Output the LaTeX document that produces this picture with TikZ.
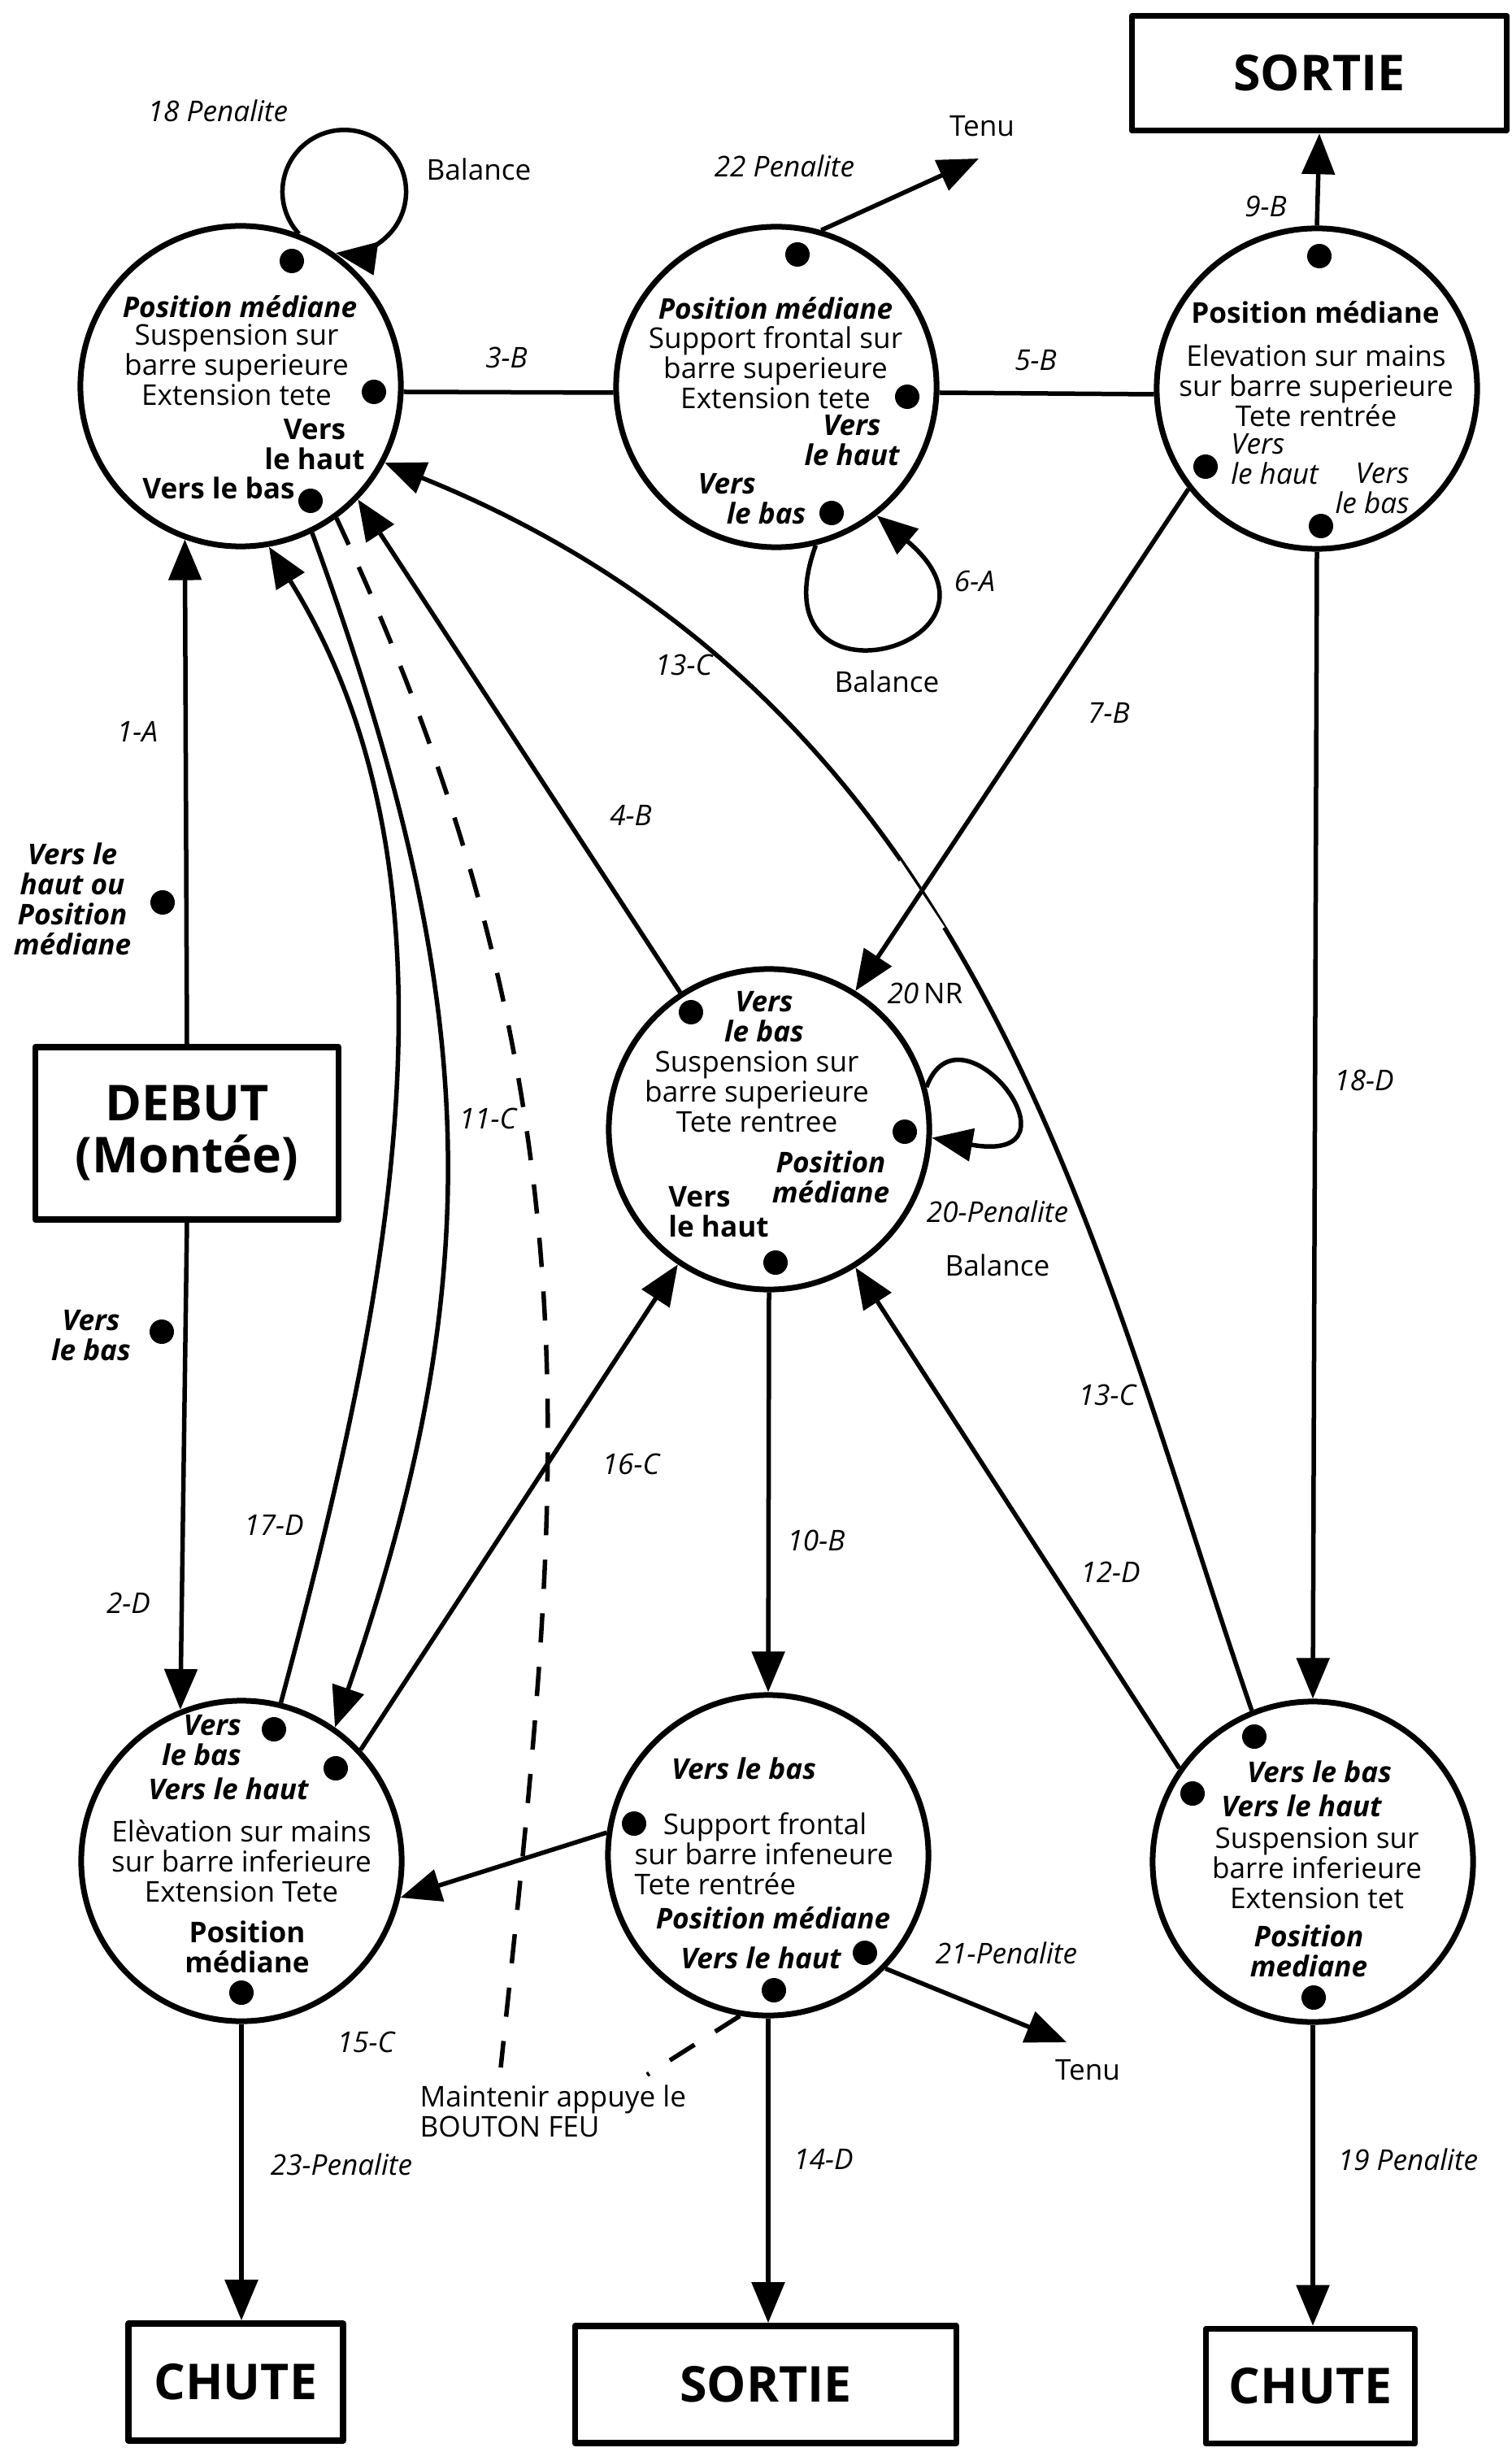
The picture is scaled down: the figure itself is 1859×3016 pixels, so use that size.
\documentclass[tikz,border=0pt]{standalone}
\usepackage{fontspec}
\setmainfont{Open Sans}
\usepackage{tikz}
\usetikzlibrary{arrows.meta,positioning}
\definecolor{gyink}{RGB}{0,0,0}
\newcommand{\ftx}{\fontsize{10}{10.5}\selectfont}
\newcommand{\fbx}{\fontsize{17.3}{18.2}\selectfont\bfseries}
\tikzset{
  etat/.style={circle, draw=gyink, line width=0.07cm, minimum size=3.94cm, inner sep=0pt},
  bout/.style={draw=gyink, line width=0.075cm, inner sep=0pt, align=center, font=\fbx},
  lig/.style={draw=gyink, line width=0.055cm},
  arr/.style={lig, -{Triangle[length=5mm,width=4mm]}},
  darr/.style={lig, dash pattern=on 3.6mm off 3mm},
  pdot/.style={circle, fill=gyink, minimum size=3mm, inner sep=0pt},
  txt/.style={align=center, inner sep=0pt, font=\ftx},
  anno/.style={inner sep=0pt, font=\ftx\itshape},
  every picture/.append style={line join=round}
}
\begin{document}
\begin{tikzpicture}[x=0.01cm, y=0.01cm]
  \useasboundingbox (0,0) rectangle (1859,-3016);
  % etats
  \node[etat] (tl) at (296,-475) {};
  \node[etat] (tm) at (955,-476) {};
  \node[etat] (tr) at (1620,-478) {};
  \node[etat] (mc) at (946,-1389) {};
  \node[etat] (bl) at (297,-2289) {};
  \node[etat] (bm) at (945,-2282) {};
  \node[etat] (br) at (1615,-2290) {};
  % boites
  \node[bout, minimum width=4.61cm, minimum height=1.41cm] (sortieH) at (1623,-90) {SORTIE};
  \node[bout, minimum width=3.73cm, minimum height=2.12cm] (debut) at (230,-1394) {DEBUT\\(Montée)};
  \node[bout, minimum width=2.64cm, minimum height=1.44cm] (chuteG) at (290,-2930) {CHUTE};
  \node[bout, minimum width=4.69cm, minimum height=1.44cm] (sortieB) at (942,-2933) {SORTIE};
  \node[bout, minimum width=2.57cm, minimum height=1.41cm] (chuteD) at (1612,-2935) {CHUTE};

  % haut gauche
  \node[pdot] (tlP1) at (359,-321) {};
  \node[pdot] (tlP2) at (460,-482) {};
  \node[pdot] (tlP3) at (382,-616) {};
  \node[txt, font=\ftx\bfseries\itshape] (tlA) at (295,-377) {Position médiane};
  \node[txt] (tlB) at (291,-449) {Suspension sur\\barre superieure\\Extension tete};
  \node[txt, font=\ftx\bfseries] (tlC) at (387,-547) {Vers\\le haut};
  \node[txt, font=\ftx\bfseries] (tlD) at (269,-600) {Vers le bas};

  % haut milieu
  \node[pdot] (tmP1) at (981,-313) {};
  \node[pdot] (tmP2) at (1116,-488) {};
  \node[pdot] (tmP3) at (1023,-631) {};
  \node[txt, font=\ftx\bfseries\itshape] (tmA) at (954,-379) {Position médiane};
  \node[txt] (tmB) at (954,-452) {Support frontal sur\\barre superieure\\Extension tete};
  \node[txt, font=\ftx\bfseries\itshape] (tmC) at (1048,-542) {Vers\\le haut};
  \node[txt, align=left, font=\ftx\bfseries\itshape] (tmD) at (925,-614) {Vers\\\hspace*{1em}le bas};

  % haut droite
  \node[pdot] (trP1) at (1623,-315) {};
  \node[pdot] (trP2) at (1483,-574) {};
  \node[pdot] (trP3) at (1625,-647) {};
  \node[txt, font=\ftx\bfseries] (trA) at (1618,-384) {Position médiane};
  \node[txt] (trB) at (1619,-474) {Elevation sur mains\\sur barre superieure\\Tete rentrée};
  \node[txt, align=left, font=\ftx\itshape] (trC) at (1568,-565) {Vers\\le haut};
  \node[txt, align=right, font=\ftx\itshape] (trD) at (1688,-601) {Vers\\le bas};

  % centre
  \node[pdot] (mcP1) at (850,-1245) {};
  \node[pdot] (mcP2) at (1113,-1392) {};
  \node[pdot] (mcP3) at (954,-1553) {};
  \node[txt, font=\ftx\bfseries\itshape] (mcA) at (940,-1251) {Vers\\le bas};
  \node[txt] (mcB) at (931,-1343) {Suspension sur\\barre superieure\\Tete rentree};
  \node[txt, font=\ftx\bfseries\itshape] (mcC) at (1022,-1448) {Position\\médiane};
  \node[txt, align=left, font=\ftx\bfseries] (mcD) at (884,-1491) {Vers\\le haut};

  % bas gauche
  \node[pdot] (blP1) at (337,-2127) {};
  \node[pdot] (blP2) at (413,-2175) {};
  \node[pdot] (blP3) at (297,-2451) {};
  \node[txt, align=right, font=\ftx\bfseries\itshape] (blA) at (248,-2141) {Vers\\le bas};
  \node[txt, font=\ftx\bfseries\itshape] (blB) at (281,-2200) {Vers le haut};
  \node[txt] (blC) at (297,-2289) {Elèvation sur mains\\sur barre inferieure\\Extension Tete};
  \node[txt, font=\ftx\bfseries] (blD) at (304,-2395) {Position\\médiane};

  % bas milieu
  \node[pdot] (bmP1) at (780,-2243) {};
  \node[pdot] (bmP2) at (1064,-2402) {};
  \node[pdot] (bmP3) at (952,-2448) {};
  \node[txt, font=\ftx\bfseries\itshape] (bmA) at (915,-2175) {Vers le bas};
  \node[txt, align=left, anchor=west] (bmB) at (780,-2280) {\hspace*{1em}Support frontal\\sur barre infeneure\\Tete rentrée};
  \node[txt, font=\ftx\bfseries\itshape] (bmC) at (951,-2359) {Position médiane};
  \node[txt, font=\ftx\bfseries\itshape] (bmD) at (936,-2408) {Vers le haut};

  % bas droite
  \node[pdot] (brP1) at (1543,-2136) {};
  \node[pdot] (brP2) at (1467,-2206) {};
  \node[pdot] (brP3) at (1616,-2457) {};
  \node[txt, font=\ftx\bfseries\itshape] (brA) at (1623,-2179) {Vers le bas};
  \node[txt, font=\ftx\bfseries\itshape] (brB) at (1601,-2221) {Vers le haut};
  \node[txt] (brC) at (1620,-2298) {Suspension sur\\barre inferieure\\Extension tet};
  \node[txt, font=\ftx\bfseries\itshape] (brD) at (1610,-2400) {Position\\mediane};

  % autour du debut
  \node[pdot] (dbP1) at (200,-1110) {};
  \node[txt, font=\ftx\bfseries\itshape] (dbA) at (89,-1106) {Vers le\\haut ou\\Position\\médiane};
  \node[pdot] (dbP2) at (199,-1638) {};
  \node[txt, font=\ftx\bfseries\itshape] (dbB) at (112,-1643) {Vers\\le bas};

  % etiquettes
  \node[anno] (l18p) at (268,-136) {18 Penalite};
  \node[anno, font=\ftx] (bal1) at (589,-208) {Balance};
  \node[anno] (l3b) at (623,-440) {3-B};
  \node[anno] (l22p) at (965,-204) {22 Penalite};
  \node[anno, font=\ftx] (tenuH) at (1208,-155) {Tenu};
  \node[anno] (l5b) at (1274,-443) {5-B};
  \node[anno] (l9b) at (1557,-254) {9-B};
  \node[anno] (l6a) at (1199,-715) {6-A};
  \node[anno, font=\ftx] (bal2) at (1091,-838) {Balance};
  \node[anno] (l13c) at (841,-818) {13-C};
  \node[anno] (l7b) at (1364,-877) {7-B};
  \node[anno] (l4b) at (776,-1003) {4-B};
  \node[anno] (l1a) at (169,-900) {1-A};
  \node[anno, font=\ftx] (l20nr) at (1138,-1222) {\textit{20}\,NR};
  \node[anno] (l11c) at (600,-1376) {11-C};
  \node[anno] (l18d) at (1678,-1329) {18-D};
  \node[anno] (l20p) at (1227,-1490) {20-Penalite};
  \node[anno, font=\ftx, below=0.38cm of l20p] (bal3) {Balance};
  \node[anno] (l13c2) at (1362,-1716) {13-C};
  \node[anno] (l16c) at (776,-1801) {16-C};
  \node[anno] (l17d) at (337,-1876) {17-D};
  \node[anno] (l10b) at (1004,-1895) {10-B};
  \node[anno] (l12d) at (1366,-1934) {12-D};
  \node[anno] (l2d) at (158,-1972) {2-D};
  \node[anno] (l21p) at (1238,-2402) {21-Penalite};
  \node[anno, font=\ftx] (tenuB) at (1338,-2546) {Tenu};
  \node[anno] (l15c) at (450,-2512) {15-C};
  \node[txt, align=left, anchor=west] (feu) at (516,-2597) {Maintenir appuye le\\BOUTON FEU};
  \node[anno] (l23p) at (420,-2662) {23-Penalite};
  \node[anno] (l14d) at (1013,-2656) {14-D};
  \node[anno] (l19p) at (1732,-2656) {19 Penalite};

  \coordinate (tipH) at (1204,-195);
  \coordinate (tipB) at (1312,-2512);
  \coordinate (feuA) at (616,-2543);
  \coordinate (feuB) at (796,-2552);

  % liaisons
  \draw[arr] (debut.north) -- (tl.250);
  \draw[arr] (debut.south) -- (bl.112);
  \draw[lig] (tl.-2) -- (tm.182);
  \draw[lig] (tm.-2) -- (tr.182);
  \draw[arr] (tr.north) -- (sortieH.south);
  \draw[arr] (tm.74) -- (tipH);
  \draw[arr] (tl.69) arc[start angle=223, end angle=-98, radius=0.76cm];
  \draw[arr] (tm.284) .. controls +(250:230) and +(-40:250) .. (tm.308);
  \draw[arr] (mc.15) .. controls +(70:120) and +(-10:200) .. (mc.-3);
  \draw[arr] (mc.123) -- (tl.-44);
  \draw[arr] (br.112) .. controls +(109:600) and +(-22:800) .. (tl.-28)
    coordinate[pos=0.557] (gapA) coordinate[pos=0.609] (gapB);
  \draw[white, line width=0.11cm] (gapA) -- (gapB);
  \draw[arr] (tr.218) -- (mc.58);
  \draw[arr] (br.145) -- (mc.-58);
  \draw[arr] (tr.south) -- (br.north);
  \draw[arr] (mc.south) -- (bm.north);
  \draw[arr] (bl.43) -- (mc.236);
  \draw[arr] (bl.76) .. controls +(75:490) and +(-58:490) .. (tl.280);
  \draw[arr] (tl.296) .. controls +(-70:600) and +(71:600) .. (bl.55);
  \draw[darr] (tl.306) .. controls +(-65:800) and +(84:700) .. (feuA);
  \draw[darr] (bm.260) -- (feuB);
  \draw[arr] (bm.172) -- (bl.-13);
  \draw[arr] (bm.-44) -- (tipB);
  \draw[arr] (bl.south) -- (bl.south |- chuteG.north);
  \draw[arr] (bm.south) -- (bm.south |- sortieB.north);
  \draw[arr] (br.south) -- (br.south |- chuteD.north);
\end{tikzpicture}
\end{document}
